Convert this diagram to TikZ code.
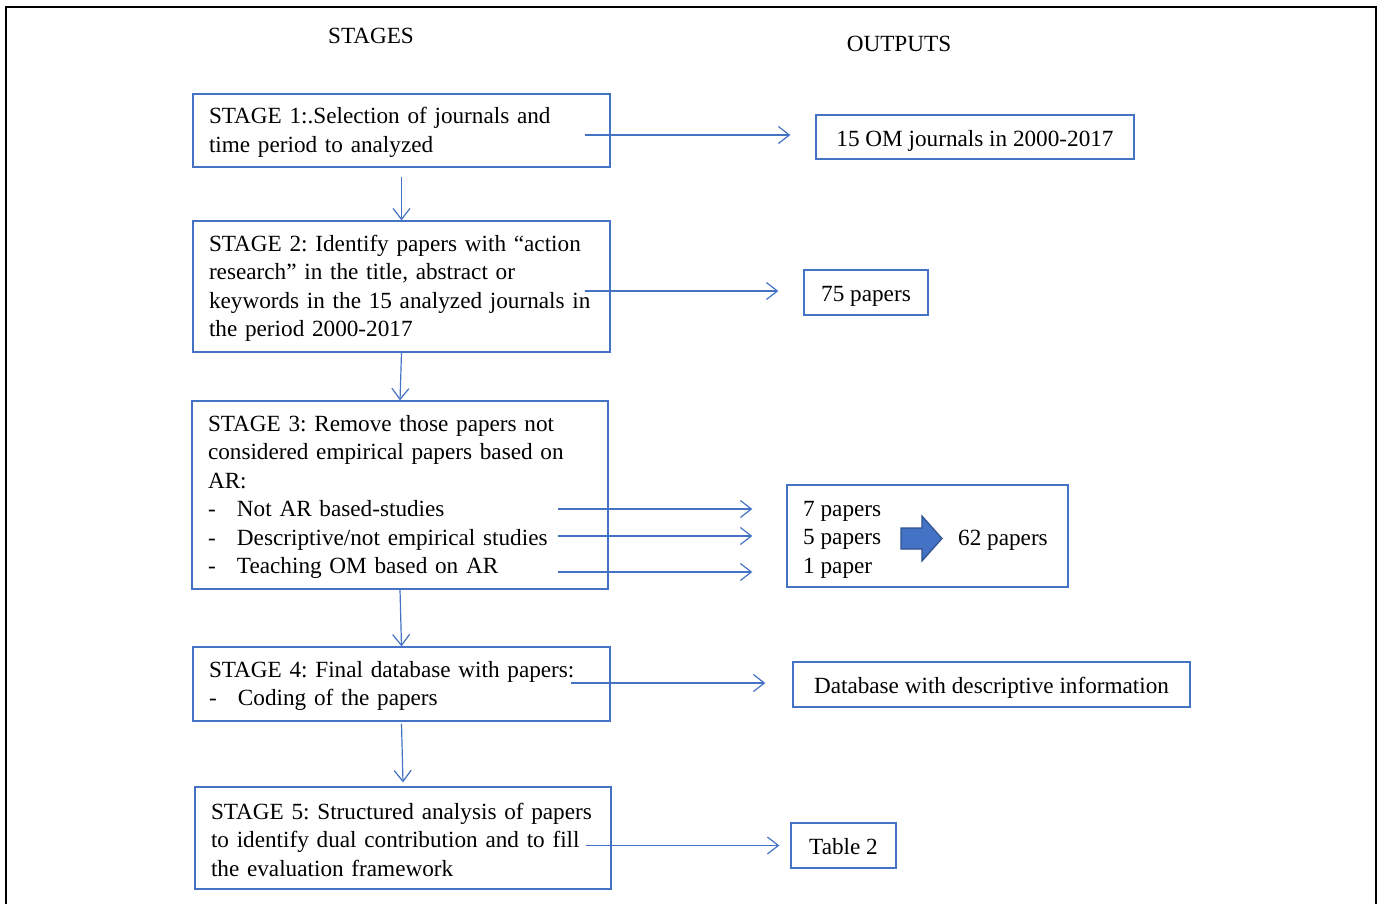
\documentclass[tikz,border=0pt]{standalone}
\usepackage{fontspec}
\setmainfont{Liberation Serif}
\usetikzlibrary{arrows.meta,calc}
\definecolor{azul}{RGB}{68,114,196}
\definecolor{azulesc}{RGB}{47,82,143}
\newcommand{\traco}{\makebox[29pt][l]{-}}
\frenchspacing

\begin{document}
\begin{tikzpicture}[x=1pt,y=-1pt,
    font=\fontsize{23.2}{28.5}\selectfont,
    caixa/.style={draw=azul, line width=1.3pt, inner xsep=16pt, inner ysep=0pt, align=left,
        execute at begin node={\rule{0pt}{20pt}}},
    saida/.style={draw=azul, line width=1.3pt, inner xsep=16pt, inner ysep=0pt,
        text height=18pt, text depth=0pt},
    seta/.style={draw=azul, line width=1.2pt, -{Straight Barb[length=11pt,width=17pt]}}]

    % Moldura
    \useasboundingbox (0,0) rectangle (1378,903);
    \clip (0,0) rectangle (1378,903);
    \draw[line width=2pt] (6,920) -- (6,7) -- (1376,7) -- (1376,920);

    % Titulos
    \node (stages) at (371,36) {STAGES};
    \node (outputs) at (899,44) {OUTPUTS};

    % Etapas
    \node[caixa, text width=385pt, minimum height=73pt] (s1) at (401.5,130.5)
        {STAGE 1:.Selection of journals and\\time period to analyzed};
    \node[caixa, text width=385pt, minimum height=131pt] (s2) at (401.5,286.5)
        {STAGE 2: Identify papers with “action\\research” in the title, abstract or\\keywords in the 15 analyzed journals in\\the period 2000-2017};
    \node[caixa, text width=384pt, minimum height=188pt] (s3) at (400,495)
        {STAGE 3: Remove those papers not\\considered empirical papers based on\\AR:\\\traco Not AR based-studies\\\traco Descriptive/not empirical studies\\\traco Teaching OM based on AR};
    \node[caixa, text width=385pt, minimum height=74pt] (s4) at (401.5,684)
        {STAGE 4: Final database with papers:\\\traco Coding of the papers};
    \node[caixa, text width=384pt, minimum height=102pt] (s5) at (403,838)
        {STAGE 5: Structured analysis of papers\\to identify dual contribution and to fill\\the evaluation framework};

    % Saidas
    \node[saida, minimum width=318pt, minimum height=44pt] (o1) at (975,137) {15 OM journals in 2000-2017};
    \node[saida, minimum width=124pt, minimum height=45pt] (o2) at (866,292.5) {75 papers};
    \node[draw=azul, line width=1.3pt, minimum width=281pt, minimum height=102pt] (o3) at (927.5,536) {};
    \node[anchor=west, align=left, inner sep=0pt] (p3) at (803,539.5) {7 papers\\5 papers\\1 paper};
    \node[anchor=west, inner sep=0pt] (p62) at (958,540) {62 papers};
    \node[saida, minimum width=397pt, minimum height=45pt] (o4) at (991.5,684.5) {Database with descriptive information};
    \node[saida, minimum width=105pt, minimum height=45pt] (o5) at (843.5,845.5) {Table 2};

    % Seta grossa
    \draw[fill=azul, draw=azulesc, line width=1.2pt] (901,528) -- (922,528) -- (922,516) -- (942,538.5)
        -- (922,561) -- (922,549) -- (901,549) -- cycle;

    % Setas entre etapas
    \draw[seta] ([yshift=-9pt]s1.south) -- (s2.north);
    \draw[seta] (s2.south) -- (s3.north);
    \draw[seta] (s3.south) -- (s4.north);
    \draw[seta] ([yshift=-2pt]s4.south) -- ([yshift=4pt]s5.north);

    % Setas para as saidas
    \draw[seta] ($(s1.east |- o1.west)+(-26,-2)$) -- ($(o1.west)+(-25,-2)$);
    \draw[seta] ($(s2.east |- o2.west)+(-26,-1.5)$) -- ($(o2.west)+(-25,-1.5)$);
    \foreach \dy in {-27,0,36}
        \draw[seta] ($(s3.east |- o3.west)+(-51,\dy)$) -- ($(o3.west)+(-34,\dy)$);
    \draw[seta] ($(s4.east |- o4.west)+(-40,-1.5)$) -- ($(o4.west)+(-27,-1.5)$);
    \draw[seta] ($(s5.east |- o5.west)+(-26,0)$) -- ($(o5.west)+(-11,0)$);

\end{tikzpicture}
\end{document}
